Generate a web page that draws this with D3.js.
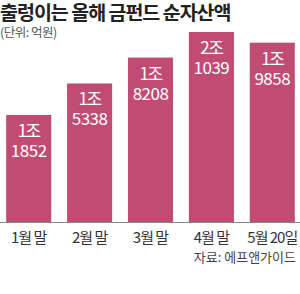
<!DOCTYPE html>
<html>
<head>
<meta charset="utf-8">
<script src="https://cdn.jsdelivr.net/npm/d3@7"></script>
<style>
  body { margin: 0; background: #fff; }
  svg text { font-family: "Noto Sans CJK KR", "Noto Sans", sans-serif; }
</style>
</head>
<body>
<div id="viz"></div>
<script>
var width = 300;
var height = 294;

// data
var categories = ['1월 말', '2월 말', '3월 말', '4월 말', '5월 20일'];
var values = [11852, 15338, 18208, 21039, 19858];
var labelTop = ['1조', '1조', '1조', '2조', '1조'];
var labelBottom = ['1852', '5338', '8208', '1039', '9858'];

var barColor = '#c24b74';
var baseY = 222;

var svg = d3.select('#viz')
  .append('svg')
  .attr('width', width)
  .attr('height', height)
  .style('background', '#fff');

var x = d3.scaleBand()
  .domain(categories)
  .range([-6, 307])
  .paddingInner(0.26)
  .paddingOuter(0.2);

var y = d3.scaleLinear()
  .domain([0, 21039])
  .range([baseY, 32]);

// title
svg.append('text')
  .attr('x', 0)
  .attr('y', 20)
  .attr('font-size', 19.5)
  .attr('font-weight', 'bold')
  .attr('letter-spacing', -1)
  .attr('fill', '#222')
  .text('출렁이는 올해 금펀드 순자산액');

svg.append('text')
  .attr('x', 0)
  .attr('y', 37)
  .attr('font-size', 12.5)
  .attr('letter-spacing', -0.5)
  .attr('fill', '#555')
  .text('(단위: 억원)');

var bars = svg.append('g').selectAll('g')
  .data(values)
  .enter().append('g');

bars.append('rect')
  .attr('x', function(d, i) { return x(categories[i]); })
  .attr('y', function(d) { return y(d); })
  .attr('width', x.bandwidth())
  .attr('height', function(d) { return baseY - y(d); })
  .attr('fill', barColor);

bars.append('text')
  .attr('x', function(d, i) { return x(categories[i]) + x.bandwidth() / 2; })
  .attr('y', function(d) { return y(d) + 22; })
  .attr('text-anchor', 'middle')
  .attr('font-size', 17)
  .attr('letter-spacing', -1.5)
  .attr('fill', '#fff')
  .text(function(d, i) { return labelTop[i]; });

bars.append('text')
  .attr('x', function(d, i) { return x(categories[i]) + x.bandwidth() / 2; })
  .attr('y', function(d) { return y(d) + 42; })
  .attr('text-anchor', 'middle')
  .attr('font-size', 17)
  .attr('font-family', '"Liberation Sans Narrow", "Liberation Sans", sans-serif')
  .attr('letter-spacing', -0.5)
  .attr('fill', '#fff')
  .text(function(d, i) { return labelBottom[i]; });

// baseline
svg.append('line')
  .attr('x1', 0)
  .attr('x2', width)
  .attr('y1', baseY + 0.5)
  .attr('y2', baseY + 0.5)
  .attr('stroke', '#888')
  .attr('stroke-width', 1);

// x labels
svg.append('g').selectAll('text')
  .data(categories)
  .enter().append('text')
  .attr('x', function(d) { return x(d) + x.bandwidth() / 2; })
  .attr('y', 243)
  .attr('text-anchor', 'middle')
  .attr('font-size', 15)
  .attr('letter-spacing', -1)
  .attr('fill', '#333')
  .text(function(d) { return d; });

svg.append('text')
  .attr('x', 296)
  .attr('y', 262)
  .attr('text-anchor', 'end')
  .attr('font-size', 13)
  .attr('letter-spacing', 0)
  .attr('fill', '#444')
  .text('자료: 에프앤가이드');
</script>
</body>
</html>
